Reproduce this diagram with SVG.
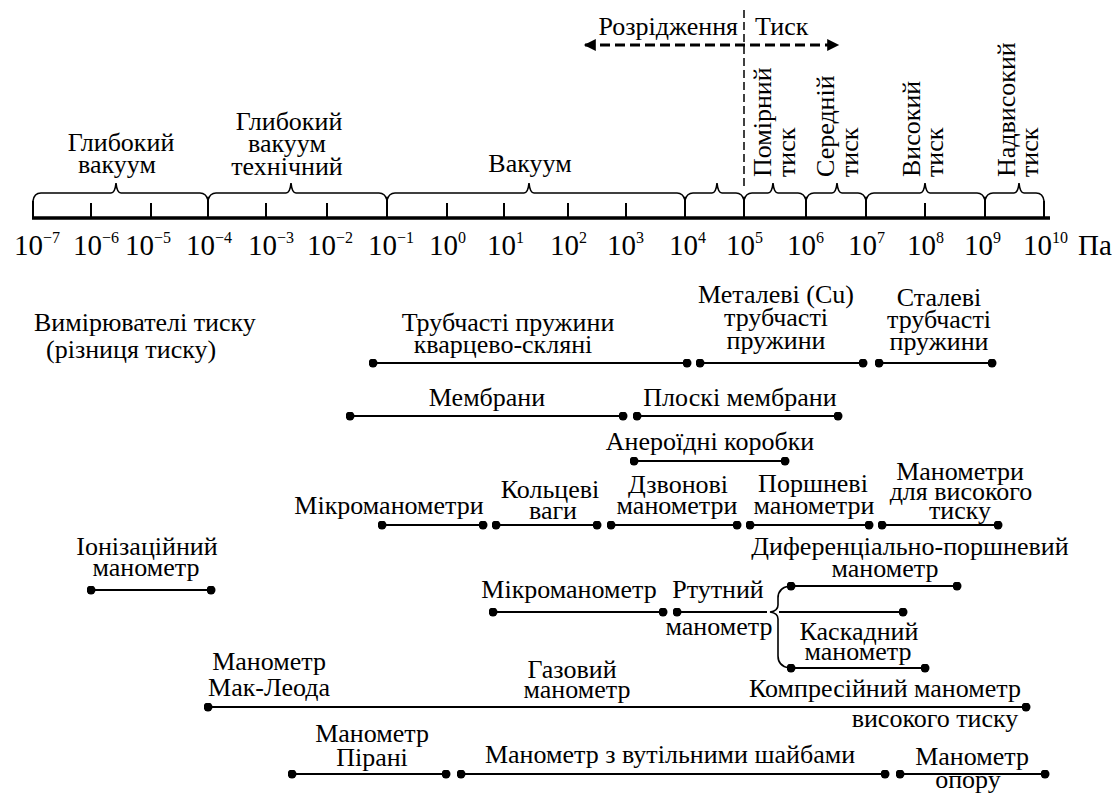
<svg xmlns="http://www.w3.org/2000/svg" width="1115" height="798" viewBox="0 0 1115 798">
<defs>
<style>
text{font-family:"Liberation Serif","Times New Roman",serif;fill:#000}
.t{font-size:26px;text-anchor:middle}
.s{font-size:26px}
.n{font-size:29px}
.sup{font-size:16px}
.rng{stroke:#000;stroke-width:2;fill:none}
.br{stroke:#000;stroke-width:1.6;fill:none}
.tk{stroke:#000;stroke-width:2}
</style>
<marker id="ah" viewBox="0 0 10 10" refX="9" refY="5" markerWidth="5" markerHeight="4" orient="auto-start-reverse" markerUnits="strokeWidth"><path d="M0,0 L10,5 L0,10 z" fill="#000"/></marker>
<marker id="dot" viewBox="0 0 10 10" refX="5" refY="5" markerWidth="4.5" markerHeight="4.5" markerUnits="strokeWidth"><circle cx="5" cy="5" r="5" fill="#000"/></marker>
</defs>
<rect width="1115" height="798" fill="#fff"/>

<g id="connectors">
  <line x1="585" y1="45" x2="838" y2="45" stroke="#000" stroke-width="3" stroke-dasharray="10,5" marker-start="url(#ah)" marker-end="url(#ah)"/>
  <line x1="744" y1="10" x2="744" y2="186" stroke="#000" stroke-width="1.5" stroke-dasharray="8,4"/>
</g>

<g id="axis">
  <line x1="32" y1="218" x2="1050" y2="218" stroke="#000" stroke-width="3.5"/>
  <g class="tk">
    <line x1="33" y1="201" x2="33" y2="218"/>
    <line x1="91" y1="203" x2="91" y2="218"/>
    <line x1="151" y1="203" x2="151" y2="218"/>
    <line x1="208" y1="200" x2="208" y2="218"/>
    <line x1="266" y1="203" x2="266" y2="218"/>
    <line x1="327" y1="203" x2="327" y2="218"/>
    <line x1="387" y1="200" x2="387" y2="218"/>
    <line x1="447" y1="203" x2="447" y2="218"/>
    <line x1="504" y1="203" x2="504" y2="218"/>
    <line x1="568" y1="203" x2="568" y2="218"/>
    <line x1="626" y1="203" x2="626" y2="218"/>
    <line x1="685" y1="200" x2="685" y2="218"/>
    <line x1="744" y1="200" x2="744" y2="218"/>
    <line x1="806" y1="200" x2="806" y2="218"/>
    <line x1="866" y1="200" x2="866" y2="218"/>
    <line x1="925" y1="203" x2="925" y2="218"/>
    <line x1="985" y1="200" x2="985" y2="218"/>
    <line x1="1044" y1="201" x2="1044" y2="218"/>
  </g>
  <g class="br">
    <path d="M33,201 Q34,193 41,193 L111,193 Q115,193 116,183 Q117,193 121,193 L200,193 Q206,193 208,200"/>
    <path d="M208,200 Q210,193 216,193 L286,193 Q290,193 291,183 Q292,193 296,193 L379,193 Q385,193 387,200"/>
    <path d="M387,200 Q389,193 395,193 L524,193 Q528,193 529,183 Q530,193 534,193 L677,193 Q683,193 685,200"/>
    <path d="M685,200 Q687,193 693,193 L712,193 Q716,193 717,183 Q718,193 722,193 L736,193 Q742,193 744,200"/>
    <path d="M744,200 Q746,193 752,193 L768,193 Q772,193 773,183 Q774,193 778,193 L798,193 Q804,193 806,200"/>
    <path d="M806,200 Q808,193 814,193 L832,193 Q836,193 837,183 Q838,193 842,193 L858,193 Q864,193 866,200"/>
    <path d="M866,200 Q868,193 874,193 L920,193 Q924,193 925,183 Q926,193 930,193 L977,193 Q983,193 985,200"/>
    <path d="M985,200 Q987,193 993,193 L1014,193 Q1018,193 1019,183 Q1020,193 1024,193 L1036,193 Q1043,193 1044,201"/>
  </g>
  <g id="ticklabels">
    <text class="n" x="14" y="255">10<tspan class="sup" dy="-12">−7</tspan></text>
    <text class="n" x="73" y="255">10<tspan class="sup" dy="-12">−6</tspan></text>
    <text class="n" x="125" y="255">10<tspan class="sup" dy="-12">−5</tspan></text>
    <text class="n" x="186" y="255">10<tspan class="sup" dy="-12">−4</tspan></text>
    <text class="n" x="248" y="255">10<tspan class="sup" dy="-12">−3</tspan></text>
    <text class="n" x="307" y="255">10<tspan class="sup" dy="-12">−2</tspan></text>
    <text class="n" x="368" y="255">10<tspan class="sup" dy="-12">−1</tspan></text>
    <text class="n" x="429" y="255">10<tspan class="sup" dy="-12">0</tspan></text>
    <text class="n" x="487" y="255">10<tspan class="sup" dy="-12">1</tspan></text>
    <text class="n" x="550" y="255">10<tspan class="sup" dy="-12">2</tspan></text>
    <text class="n" x="607" y="255">10<tspan class="sup" dy="-12">3</tspan></text>
    <text class="n" x="669" y="255">10<tspan class="sup" dy="-12">4</tspan></text>
    <text class="n" x="726" y="255">10<tspan class="sup" dy="-12">5</tspan></text>
    <text class="n" x="787" y="255">10<tspan class="sup" dy="-12">6</tspan></text>
    <text class="n" x="848" y="255">10<tspan class="sup" dy="-12">7</tspan></text>
    <text class="n" x="907" y="255">10<tspan class="sup" dy="-12">8</tspan></text>
    <text class="n" x="964" y="255">10<tspan class="sup" dy="-12">9</tspan></text>
    <text class="n" x="1023" y="255">10<tspan class="sup" dy="-12">10</tspan></text>
    <text class="n" x="1078" y="255">Па</text>
  </g>
</g>

<g id="top-labels">
  <text class="s" x="738" y="35" text-anchor="end">Розрідження</text>
  <text class="s" x="755" y="35">Тиск</text>
</g>

<g id="zone-deep-vacuum"><text class="t" x="121" y="151">Глибокий</text><text class="t" x="117" y="173">вакуум</text></g>
<g id="zone-deep-tech"><text class="t" x="289" y="130">Глибокий</text><text class="t" x="287" y="152">вакуум</text><text class="t" x="287" y="175">технічний</text></g>
<g id="zone-vacuum"><text class="t" x="530" y="172">Вакуум</text></g>
<g id="zone-moderate"><text class="s" transform="translate(771,177) rotate(-90)">Помірний</text><text class="s" transform="translate(795,177) rotate(-90)">тиск</text></g>
<g id="zone-medium"><text class="s" transform="translate(834,177) rotate(-90)">Середній</text><text class="s" transform="translate(858,177) rotate(-90)">тиск</text></g>
<g id="zone-high"><text class="s" transform="translate(920,177) rotate(-90)">Високий</text><text class="s" transform="translate(943,177) rotate(-90)">тиск</text></g>
<g id="zone-ultra"><text class="s" transform="translate(1015,177) rotate(-90)">Надвисокий</text><text class="s" transform="translate(1038,177) rotate(-90)">тиск</text></g>

<g id="title"><text class="s" x="34" y="331">Вимірювателі тиску</text><text class="s" x="46" y="358">(різниця тиску)</text></g>

<g id="ranges" class="rng">
  <line x1="373" y1="363" x2="687" y2="363" marker-start="url(#dot)" marker-end="url(#dot)"/>
  <line x1="700" y1="363" x2="863" y2="363" marker-start="url(#dot)" marker-end="url(#dot)"/>
  <line x1="879" y1="363" x2="992" y2="363" marker-start="url(#dot)" marker-end="url(#dot)"/>
  <line x1="350" y1="416" x2="623" y2="416" marker-start="url(#dot)" marker-end="url(#dot)"/>
  <line x1="637" y1="416" x2="838" y2="416" marker-start="url(#dot)" marker-end="url(#dot)"/>
  <line x1="634" y1="461" x2="785" y2="461" marker-start="url(#dot)" marker-end="url(#dot)"/>
  <line x1="382" y1="525" x2="483" y2="525" marker-start="url(#dot)" marker-end="url(#dot)"/>
  <line x1="496" y1="525" x2="597" y2="525" marker-start="url(#dot)" marker-end="url(#dot)"/>
  <line x1="611" y1="525" x2="737" y2="525" marker-start="url(#dot)" marker-end="url(#dot)"/>
  <line x1="750" y1="525" x2="869" y2="525" marker-start="url(#dot)" marker-end="url(#dot)"/>
  <line x1="882" y1="525" x2="998" y2="525" marker-start="url(#dot)" marker-end="url(#dot)"/>
  <line x1="91" y1="590" x2="211" y2="590" marker-start="url(#dot)" marker-end="url(#dot)"/>
  <line x1="791" y1="586" x2="957" y2="586" marker-start="url(#dot)" marker-end="url(#dot)"/>
  <line x1="493" y1="612" x2="663" y2="612" marker-start="url(#dot)" marker-end="url(#dot)"/>
  <line x1="677" y1="612" x2="767" y2="612" marker-start="url(#dot)"/>
  <line x1="779" y1="612" x2="903" y2="612" marker-end="url(#dot)"/>
  <line x1="791" y1="668" x2="925" y2="668" marker-start="url(#dot)" marker-end="url(#dot)"/>
  <line x1="208" y1="707" x2="1026" y2="707" marker-start="url(#dot)" marker-end="url(#dot)"/>
  <line x1="292" y1="774" x2="446" y2="774" marker-start="url(#dot)" marker-end="url(#dot)"/>
  <line x1="461" y1="774" x2="885" y2="774" marker-start="url(#dot)" marker-end="url(#dot)"/>
  <line x1="900" y1="774" x2="1045" y2="774" marker-start="url(#dot)" marker-end="url(#dot)"/>
  <path class="br" d="M789,586 Q778,588 778,598 L778,605 Q778,611 770,612 Q778,613 778,619 L778,656 Q778,666 789,668"/>
</g>

<g id="n-quartz"><text class="t" x="508" y="331">Трубчасті пружини</text><text class="t" x="503" y="353">кварцево-скляні</text></g>
<g id="n-metal"><text class="t" x="776" y="303">Металеві (Cu)</text><text class="t" x="776" y="326">трубчасті</text><text class="t" x="776" y="349">пружини</text></g>
<g id="n-steel"><text class="t" x="939" y="306">Сталеві</text><text class="t" x="939" y="328">трубчасті</text><text class="t" x="939" y="350">пружини</text></g>
<g id="n-membr"><text class="t" x="487" y="406">Мембрани</text></g>
<g id="n-flat"><text class="t" x="740" y="406">Плоскі мембрани</text></g>
<g id="n-aneroid"><text class="t" x="710" y="450">Анероїдні коробки</text></g>
<g id="n-micro"><text class="t" x="389" y="514">Мікроманометри</text></g>
<g id="n-ring"><text class="t" x="550" y="498">Кольцеві</text><text class="t" x="553" y="519">ваги</text></g>
<g id="n-bell"><text class="t" x="678" y="493">Дзвонові</text><text class="t" x="677" y="514">манометри</text></g>
<g id="n-piston"><text class="t" x="813" y="492">Поршневі</text><text class="t" x="814" y="514">манометри</text></g>
<g id="n-highp"><text class="t" x="960" y="480">Манометри</text><text class="t" x="961" y="500">для високого</text><text class="t" x="960" y="519">тиску</text></g>
<g id="n-ion"><text class="t" x="147" y="555">Іонізаційний</text><text class="t" x="146" y="576">манометр</text></g>
<g id="n-diff"><text class="t" x="910" y="555">Диференціально-поршневий</text><text class="t" x="885" y="577">манометр</text></g>
<g id="n-micro2"><text class="t" x="569" y="598">Мікроманометр</text></g>
<g id="n-merc"><text class="t" x="718" y="598">Ртутний</text><text class="t" x="719" y="635">манометр</text></g>
<g id="n-casc"><text class="t" x="859" y="640">Каскадний</text><text class="t" x="858" y="660">манометр</text></g>
<g id="n-mcleod"><text class="t" x="269" y="670">Манометр</text><text class="t" x="269" y="696">Мак-Леода</text></g>
<g id="n-gas"><text class="t" x="572" y="678">Газовий</text><text class="t" x="577" y="698">манометр</text></g>
<g id="n-compr"><text class="t" x="885" y="697">Компресійний манометр</text><text class="t" x="935" y="727">високого тиску</text></g>
<g id="n-pirani"><text class="t" x="372" y="742">Манометр</text><text class="t" x="372" y="766">Пірані</text></g>
<g id="n-washer"><text class="t" x="670" y="763">Манометр з вутільними шайбами</text></g>
<g id="n-resist"><text class="t" x="972" y="765">Манометр</text><text class="t" x="968" y="788">опору</text></g>
</svg>
